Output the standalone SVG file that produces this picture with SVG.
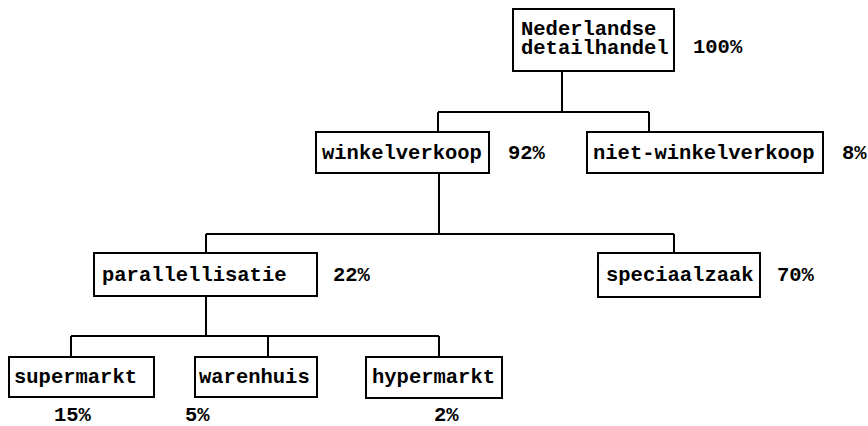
<svg xmlns="http://www.w3.org/2000/svg" width="868" height="426" viewBox="0 0 868 426">
<style>
.box{fill:#fff;stroke:#000;stroke-width:2}
.t{font-family:"Liberation Mono","Courier New",monospace;font-weight:bold;font-size:20.5px;fill:#000}
.c{fill:none;stroke:#000;stroke-width:2}
</style>
<rect width="868" height="426" fill="#fff"/>
<g id="connectors">
<path class="c" d="M562 71V112M438 112H649M438 112V132M649 112V132"/>
<path class="c" d="M439 173V234M206 234H674M206 234V253M674 234V253"/>
<path class="c" d="M206 296V336M71 336H439M71 336V357M268 336V357M439 336V357"/>
</g>
<g id="n-nederlandse">
<rect class="box" x="513" y="9" width="161" height="62"/>
<text class="t" x="521" y="35">Nederlandse</text>
<text class="t" x="521" y="54">detailhandel</text>
<text class="t" x="693" y="53">100%</text>
</g>
<g id="n-winkelverkoop">
<rect class="box" x="316" y="132" width="173" height="41"/>
<text class="t" x="322" y="159">winkelverkoop</text>
<text class="t" x="508" y="159">92%</text>
</g>
<g id="n-niet-winkelverkoop">
<rect class="box" x="587" y="132" width="236" height="41"/>
<text class="t" x="593" y="159">niet-winkelverkoop</text>
<text class="t" x="842" y="159">8%</text>
</g>
<g id="n-parallellisatie">
<rect class="box" x="94" y="253" width="223" height="43"/>
<text class="t" x="102" y="281">parallellisatie</text>
<text class="t" x="333" y="281">22%</text>
</g>
<g id="n-speciaalzaak">
<rect class="box" x="598" y="253" width="162" height="44"/>
<text class="t" x="606" y="281">speciaalzaak</text>
<text class="t" x="777" y="281">70%</text>
</g>
<g id="n-supermarkt">
<rect class="box" x="9" y="357" width="145" height="40"/>
<text class="t" x="14" y="383">supermarkt</text>
<text class="t" x="54" y="421">15%</text>
</g>
<g id="n-warenhuis">
<rect class="box" x="195" y="357" width="122" height="40"/>
<text class="t" x="199" y="383">warenhuis</text>
<text class="t" x="185" y="421">5%</text>
</g>
<g id="n-hypermarkt">
<rect class="box" x="366" y="357" width="136" height="41"/>
<text class="t" x="372" y="383">hypermarkt</text>
<text class="t" x="434" y="421">2%</text>
</g>
</svg>
